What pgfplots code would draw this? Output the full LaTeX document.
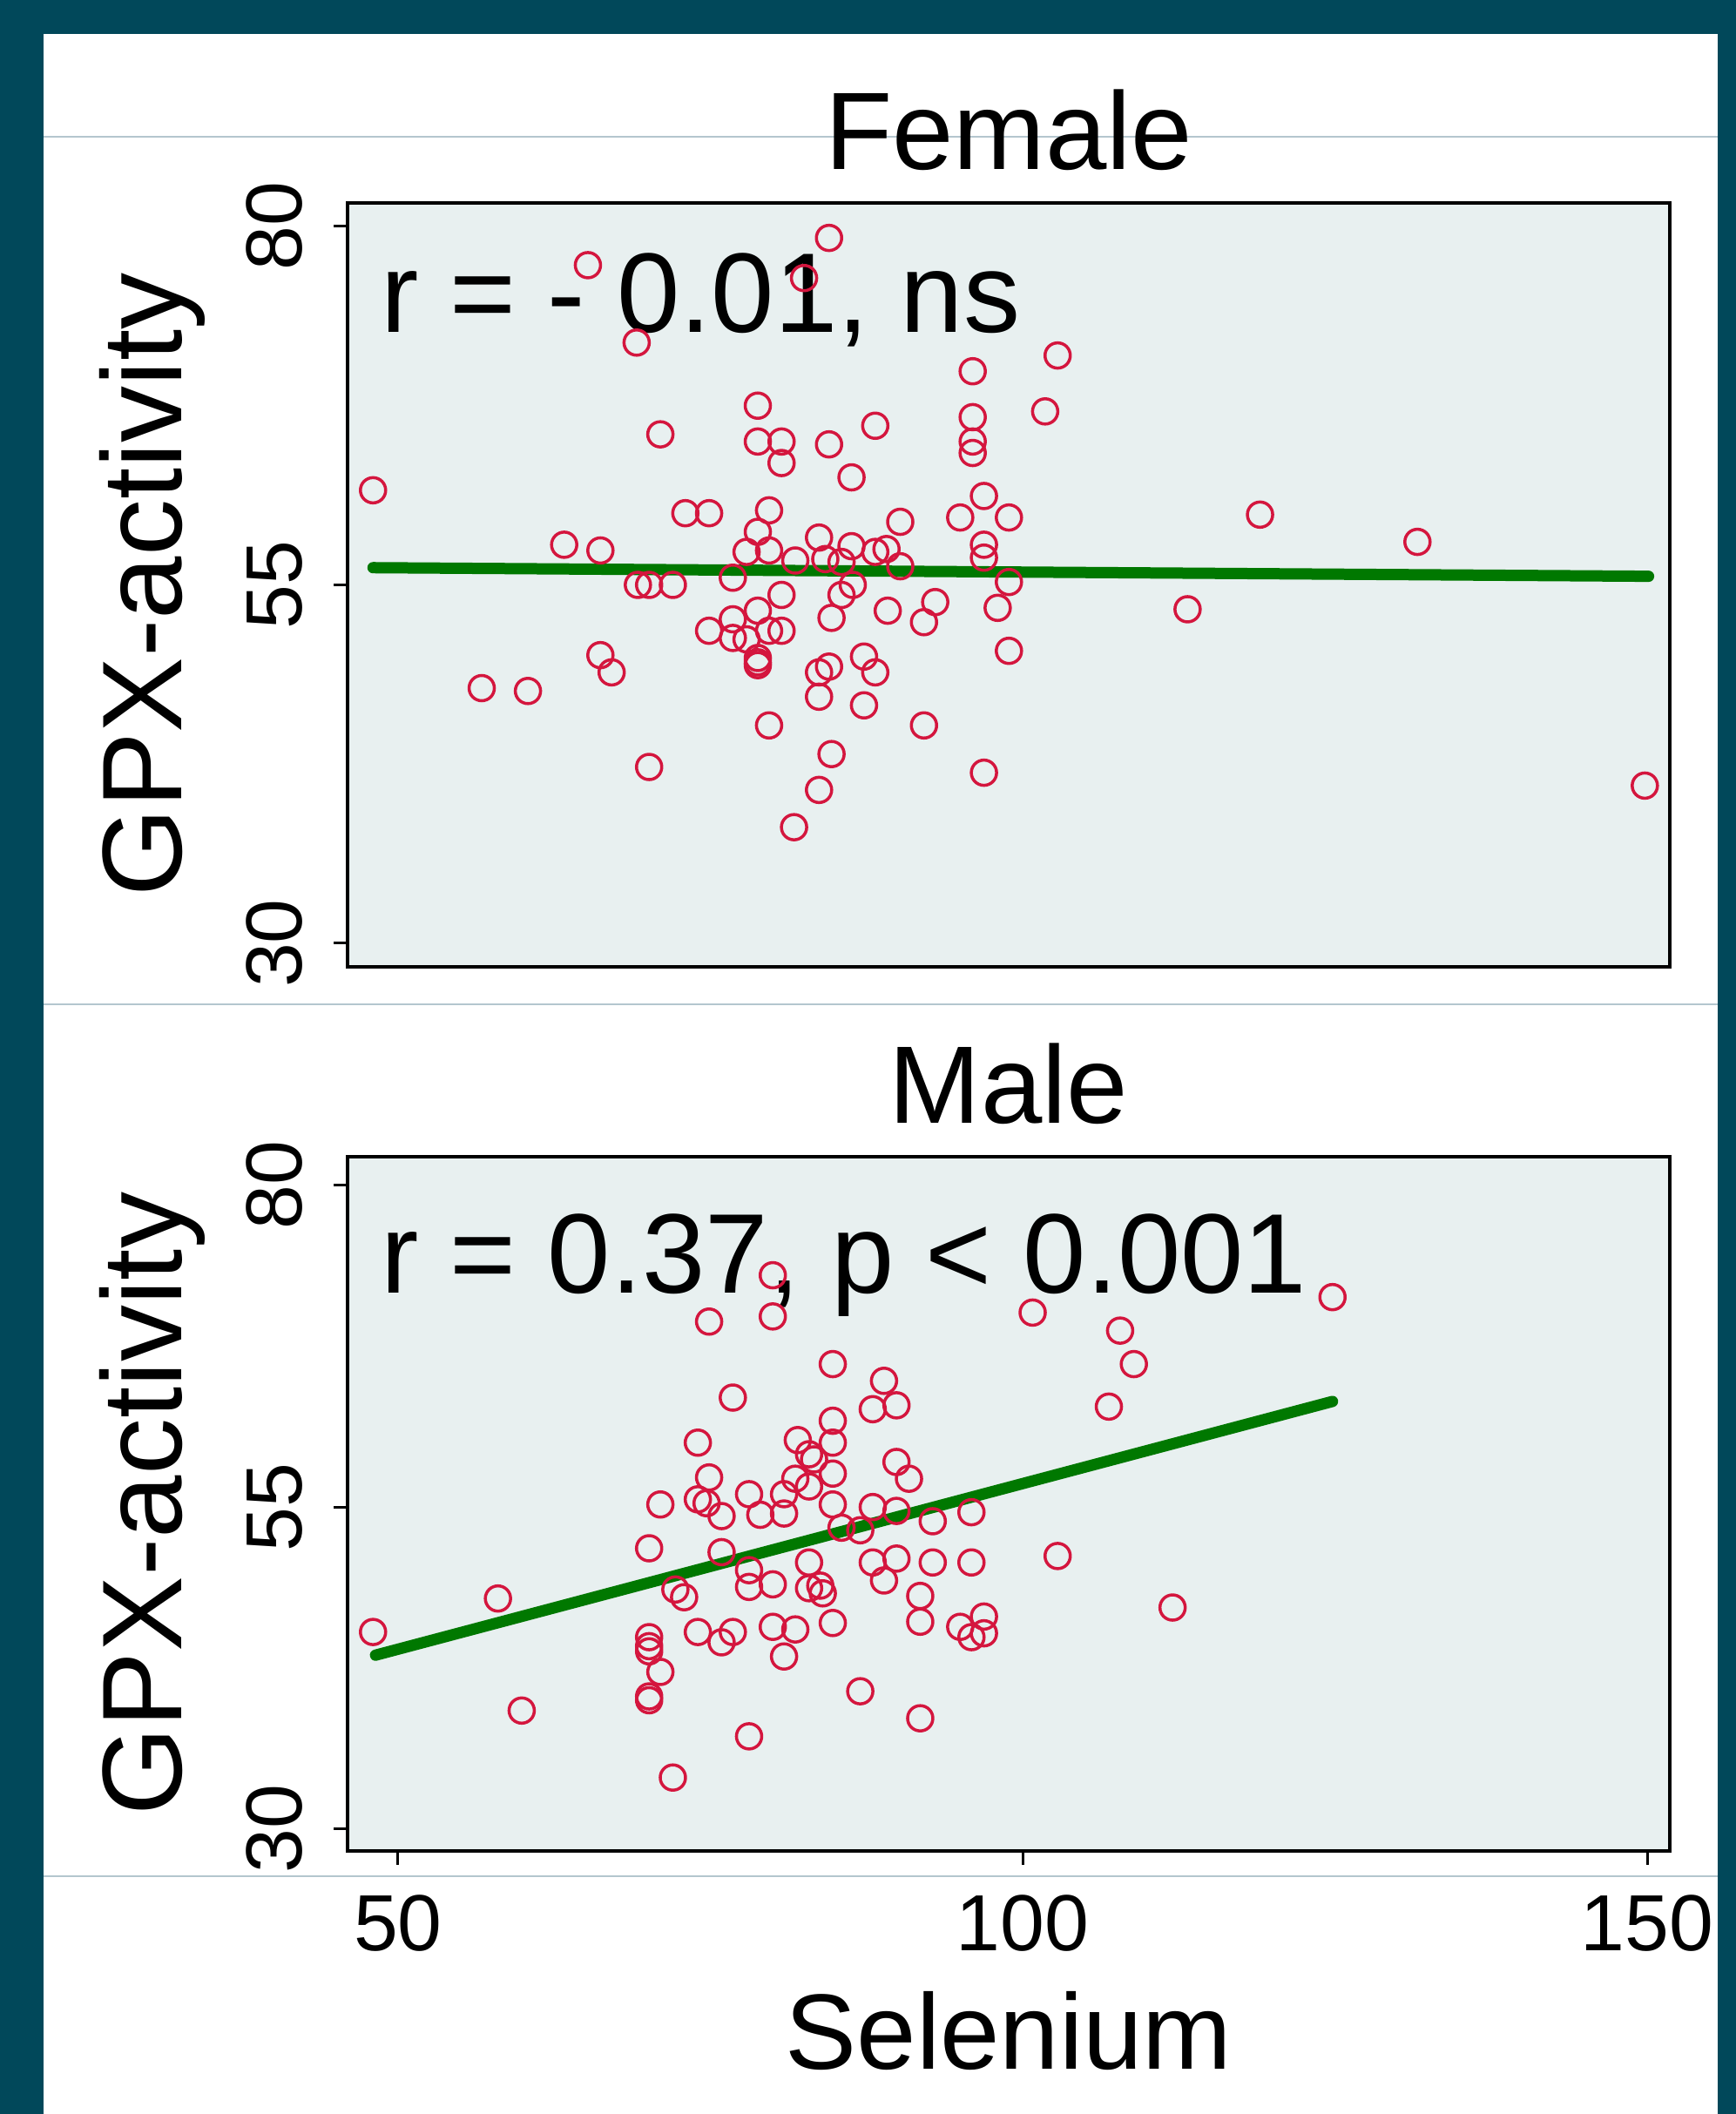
\documentclass[border=0pt]{standalone}
\usepackage{fontspec}
\setmainfont{Liberation Sans}
\usepackage{pgfplots}
\pgfplotsset{compat=1.18}
\definecolor{frame}{RGB}{1,72,90}
\definecolor{panel}{RGB}{232,240,240}
\definecolor{dots}{RGB}{212,22,62}
\definecolor{fitline}{RGB}{0,120,0}
\definecolor{rule}{RGB}{180,198,206}

\pgfplotstableread{
x y
48.0 61.6
65.2 77.3
84.5 79.2
82.5 76.4
69.1 71.9
96.0 69.9
102.8 71.0
78.8 67.5
101.8 67.1
96.0 66.7
71.0 65.5
78.8 65.0
80.7 65.0
80.7 63.5
84.5 64.8
88.2 66.1
96.0 65.0
96.0 64.2
86.3 62.5
96.9 61.2
73.0 60.0
74.9 60.0
79.7 60.2
90.2 59.4
95.0 59.7
98.9 59.7
78.8 58.7
63.3 57.8
66.2 57.4
83.7 58.3
77.9 57.3
79.7 57.4
86.3 57.7
88.2 57.3
89.1 57.5
81.8 56.7
84.2 56.8
85.5 56.6
90.2 56.3
96.9 57.8
96.9 56.9
98.9 55.2
76.8 55.5
69.2 55.0
70.1 55.0
72.0 55.0
80.7 54.3
86.4 55.0
85.5 54.3
98.0 53.4
89.2 53.2
93.0 53.8
92.1 52.4
84.7 52.7
78.8 53.2
76.8 52.6
74.9 51.8
76.8 51.3
77.9 51.2
79.7 51.8
80.7 51.8
78.8 49.9
78.8 49.6
78.8 49.4
66.2 50.1
67.1 48.9
56.7 47.8
60.4 47.6
83.7 48.9
84.5 49.3
87.3 50.0
88.2 48.9
83.7 47.2
87.3 46.6
98.9 50.4
79.7 45.2
92.1 45.2
84.7 43.2
70.1 42.3
96.9 41.9
83.7 40.7
81.7 38.1
119.0 59.9
131.6 58.0
113.2 53.3
149.8 41.0
}\female

\pgfplotstableread{
x y
48.0 45.3
58.0 47.9
59.9 39.2
70.1 51.8
70.1 44.9
70.1 44.2
70.1 43.8
70.1 40.3
70.1 40.0
71.0 55.2
71.0 42.2
72.2 48.6
72.9 48.0
72.0 34.0
74.0 60.0
74.0 55.6
74.0 45.3
74.7 55.3
74.9 57.3
74.9 69.4
75.9 54.3
75.9 51.5
75.9 44.5
76.8 63.5
76.8 45.3
78.1 56.0
78.1 50.1
78.1 48.8
78.1 37.2
79.0 54.4
80.0 73.0
80.0 69.8
80.0 49.0
80.0 45.7
80.9 56.0
80.9 54.5
80.9 43.4
81.8 57.2
81.8 45.5
82.0 60.2
82.9 59.1
83.3 58.7
82.9 56.6
82.9 50.7
82.9 48.7
83.8 48.9
84.0 48.3
84.8 66.1
84.8 61.7
84.8 60.0
84.8 57.6
84.8 55.2
84.8 46.0
85.5 53.4
87.0 53.2
87.0 40.7
88.0 62.6
88.0 55.0
88.0 50.7
88.9 64.8
88.9 49.3
89.9 62.9
89.9 58.5
89.9 54.7
89.9 51.0
90.9 57.2
91.8 48.1
91.8 46.1
91.8 38.6
92.8 53.9
92.8 50.7
95.0 45.7
95.9 54.6
95.9 50.7
95.9 44.9
96.9 46.5
96.9 45.2
100.8 70.1
102.8 51.2
106.9 62.8
107.8 68.7
108.9 66.1
112.0 47.2
124.8 71.3
}\male

\tikzset{note/.style={anchor=base west, inner sep=0pt,
  font=\fontsize{37}{41}\selectfont}}

\pgfplotsset{
  gpx/.style={
    scale only axis, width=151.8mm, xmin=45.96, xmax=151.8,
    axis background/.style={fill=panel},
    axis line style={black, line width=0.45mm},
    tick pos=left, tick align=outside, major tick length=1.6mm,
    tick style={black, line width=0.3mm},
    ytick={30,55,80},
    ticklabel style={font=\fontsize{26}{28}\selectfont},
    /pgf/number format/assume math mode=true,
    yticklabel style={rotate=90, anchor=south, inner sep=0pt},
    yticklabel shift=3.5mm,
    ylabel={GPX-activity},
    ylabel style={font=\fontsize{37}{41}\selectfont, inner sep=0pt,
      at={(axis description cs:-0.1252,0.5)}, anchor=base},
    title style={font=\fontsize{36}{40}\selectfont, inner sep=0pt,
      at={(0.5,1)}, anchor=base, yshift=1.7mm},
    clip=false,
  },
  pts/.style={only marks, mark=o, mark size=1.45mm, color=dots,
    mark options={line width=0.35mm}},
  fitted/.style={color=fitline, line width=1.3mm, line cap=round},
}

\begin{document}
\begin{tikzpicture}
\useasboundingbox (0,0) rectangle (199.3mm,242.7mm);
\fill[frame] (0,0) rectangle (199.3mm,242.7mm);
\fill[white] (5.0mm,0) rectangle (197.2mm,238.8mm);
\foreach \yy in {227.0,127.4,27.3}
  \draw[rule, line width=0.2mm] (5.0mm,\yy mm) -- (197.2mm,\yy mm);

\begin{axis}[gpx, at={(39.9mm,131.7mm)}, anchor=south west,
  height=87.7mm, ymin=28.36, ymax=81.64, xtick=\empty, title={Female}]
\addplot[pts] table {\female};
\addplot[fitted] coordinates {(48.0,56.2) (150.1,55.6)};
\node[note] at (axis cs:48.6,72.6) {r = - 0.01, ns};
\end{axis}

\begin{axis}[gpx, at={(39.9mm,30.2mm)}, anchor=south west,
  height=79.7mm, ymin=28.3, ymax=82.2, xtick={50,100,150},
  xticklabel style={anchor=north, inner sep=0pt}, xticklabel shift=3.4mm,
  title={Male}, xlabel={Selenium},
  xlabel style={font=\fontsize{35}{40}\selectfont, inner sep=0pt,
    at={(axis description cs:0.5,-0.3137)}, anchor=base}]
\addplot[pts] table {\male};
\addplot[fitted] coordinates {(48.2,43.5) (124.8,63.2)};
\node[note] at (axis cs:48.6,71.6) {r = 0.37, p < 0.001};
\end{axis}
\end{tikzpicture}
\end{document}
